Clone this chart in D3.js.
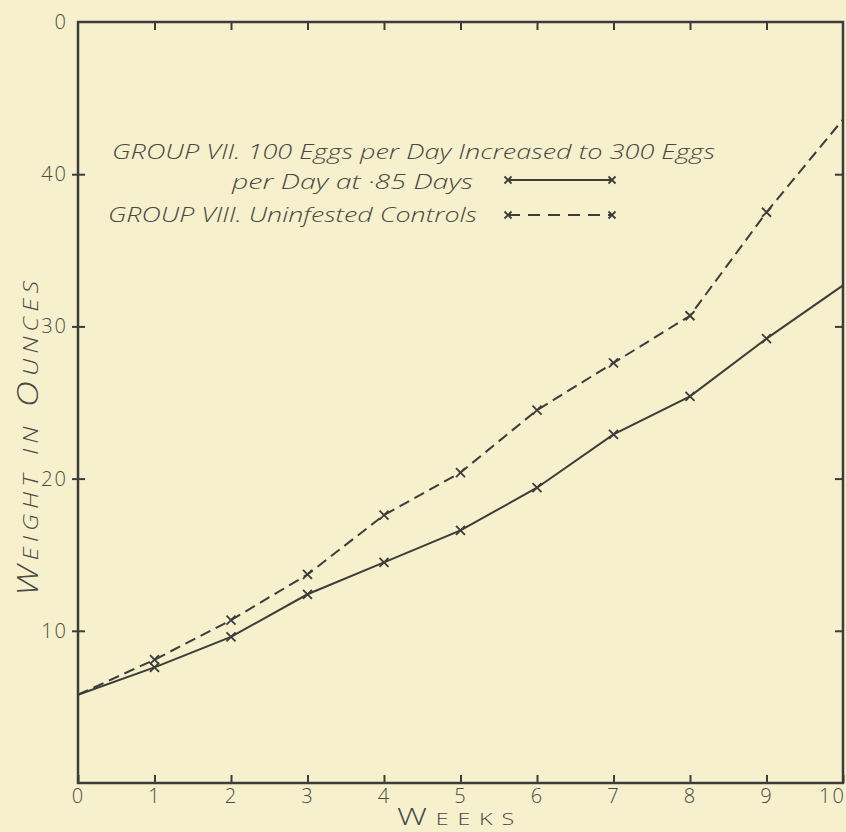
<!DOCTYPE html>
<html>
<head>
<meta charset="utf-8">
<script src="https://cdn.jsdelivr.net/npm/d3@7"></script>
<style>
 body { margin: 0; background: #f6f0cc; }
 svg { display: block; }
</style>
</head>
<body>
<div id="chart"></div>
<script>
// Weekly mean weights
var weeks = [0, 1, 2, 3, 4, 5, 6, 7, 8, 9, 10];
var groupVII = [5.8, 7.6, 9.6, 12.4, 14.5, 16.6, 19.4, 22.9, 25.4, 29.2, 32.7];
var groupVIII = [5.8, 8.1, 10.7, 13.7, 17.6, 20.4, 24.5, 27.6, 30.7, 37.5, 43.6];

var yTicks = [10, 20, 30, 40, 50];
var yTickLabels = ["10", "20", "30", "40", "0"];   // the 5 of 50 is lost in the scan
var xTickLabels = ["0", "1", "2", "3", "4", "5", "6", "7", "8", "9", "10"];

var legendLines = [
  "GROUP VII.  100 Eggs per Day Increased to 300 Eggs",
  "per Day at \u00b785 Days",
  "GROUP VIII. Uninfested Controls"
];

var W = 846, H = 832;
var margin = {left: 78, top: 22, right: 3, bottom: 49};
var ink = "#3c3c3a";
var font = "'Open Sans', 'DejaVu Sans', sans-serif";

var svg = d3.select("#chart").append("svg")
    .attr("width", W)
    .attr("height", H)
    .style("background", "#f6f0cc");

var x = d3.scaleLinear().domain([0, 10]).range([margin.left, W - margin.right]);
var y = d3.scaleLinear().domain([0, 50]).range([H - margin.bottom, margin.top]);

// frame
svg.append("rect")
    .attr("x", x(0)).attr("y", y(50))
    .attr("width", x(10) - x(0)).attr("height", y(0) - y(50))
    .attr("fill", "none").attr("stroke", ink).attr("stroke-width", 2.5);

// axes, ticks point inward
var gBottom = svg.append("g").attr("transform", "translate(0," + y(0) + ")")
    .call(d3.axisBottom(x).tickValues(weeks).tickSize(-8).tickPadding(6)
        .tickFormat(function(d, i) { return xTickLabels[i]; }));
var gTop = svg.append("g").attr("transform", "translate(0," + y(50) + ")")
    .call(d3.axisTop(x).tickValues(weeks.slice(1, 10)).tickSize(-8).tickFormat(""));
var gLeft = svg.append("g").attr("transform", "translate(" + x(0) + ",0)")
    .call(d3.axisLeft(y).tickValues(yTicks).tickSize(6).tickPadding(4)
        .tickFormat(function(d, i) { return yTickLabels[i]; }));
var gRight = svg.append("g").attr("transform", "translate(" + x(10) + ",0)")
    .call(d3.axisRight(y).tickValues(yTicks.slice(0, 4)).tickSize(-8).tickFormat(""));

[gBottom, gTop, gLeft, gRight].forEach(function(g) {
    g.select(".domain").remove();
    g.selectAll(".tick line").attr("stroke", ink).attr("stroke-width", 2);
    g.selectAll("text").attr("fill", "#4a4a46").style("font-family", font)
        .style("font-size", "20px").style("font-weight", 300)
        .style("letter-spacing", "2px");
});
// left ticks also cross into the plot a little
gLeft.selectAll(".tick line").attr("x1", 7);
gLeft.select(".tick:last-of-type line").remove();
gBottom.select(".tick:last-of-type text").attr("dx", "-11");

// lines
var line = d3.line()
    .x(function(d, i) { return x(weeks[i]); })
    .y(function(d) { return y(d); });

function cross(g, px, py, s) {
    g.append("path")
        .attr("d", "M" + (px - s) + "," + (py - s) + "L" + (px + s) + "," + (py + s) +
                   "M" + (px - s) + "," + (py + s) + "L" + (px + s) + "," + (py - s))
        .attr("stroke", ink).attr("stroke-width", 1.8).attr("fill", "none");
}

var series = [
    {vals: groupVIII, dash: "11,6"},
    {vals: groupVII, dash: null}
];
series.forEach(function(s) {
    svg.append("path")
        .attr("d", line(s.vals))
        .attr("fill", "none").attr("stroke", ink).attr("stroke-width", 2)
        .attr("stroke-dasharray", s.dash);
    var g = svg.append("g");
    s.vals.forEach(function(v, i) {
        if (i === 0 || i === 10) return;
        cross(g, x(weeks[i]), y(v), 4.5);
    });
});

// legend text
var lg = svg.append("g").attr("fill", "#484844")
    .style("font-family", font).style("font-style", "italic")
    .style("font-size", "21px").style("font-weight", 300);
lg.append("text").attr("x", 112).attr("y", 159).text(legendLines[0])
    .attr("textLength", 603).attr("lengthAdjust", "spacingAndGlyphs");
lg.append("text").attr("x", 232).attr("y", 189).text(legendLines[1])
    .attr("textLength", 241).attr("lengthAdjust", "spacingAndGlyphs");
lg.append("text").attr("x", 108).attr("y", 222).text(legendLines[2])
    .attr("textLength", 369).attr("lengthAdjust", "spacingAndGlyphs");

// legend samples
var lx0 = 508, lx1 = 612;
[{yy: 180, dash: null}, {yy: 215, dash: "12,8"}].forEach(function(k) {
    svg.append("line")
        .attr("x1", lx0).attr("x2", lx1).attr("y1", k.yy).attr("y2", k.yy)
        .attr("stroke", ink).attr("stroke-width", 2).attr("stroke-dasharray", k.dash);
    cross(svg, lx0, k.yy, 3.5);
    cross(svg, lx1, k.yy, 3.5);
});

// axis titles
svg.append("text")
    .attr("transform", "translate(38,596) rotate(-90)")
    .attr("fill", "#484844")
    .style("font-family", font).style("font-style", "italic")
    .style("font-size", "29px").style("font-weight", 300)
    .style("font-variant", "small-caps").style("letter-spacing", "4px")
    .attr("textLength", 320).attr("lengthAdjust", "spacingAndGlyphs")
    .text("Weight in Ounces");

svg.append("text")
    .attr("x", 397).attr("y", 825)
    .attr("fill", "#484844")
    .style("font-family", font)
    .style("font-size", "23px").style("font-weight", 300)
    .style("font-variant", "small-caps").style("letter-spacing", "6px")
    .attr("textLength", 126).attr("lengthAdjust", "spacingAndGlyphs")
    .text("Weeks");
</script>
</body>
</html>
